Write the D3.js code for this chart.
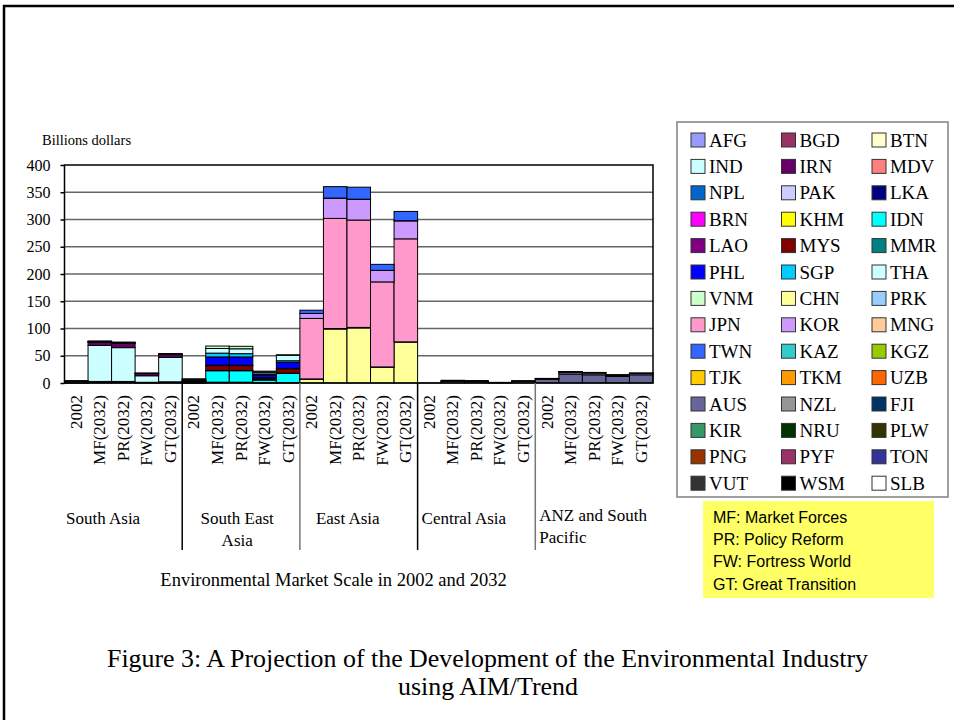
<!DOCTYPE html>
<html><head><meta charset="utf-8">
<script src="https://cdn.jsdelivr.net/npm/d3@7"></script>
<style>body{margin:0;background:#fff}svg{display:block}</style>
</head><body>
<svg id="c" width="954" height="720"></svg>
<script>
// ---------------- DATA ----------------
const scenarios = ["2002","MF(2032)","PR(2032)","FW(2032)","GT(2032)"];
const regions = ["South Asia","South East Asia","East Asia","Central Asia","ANZ and South Pacific"];
const yTicks = [0,50,100,150,200,250,300,350,400];
const countries = ["AFG","BGD","BTN","IND","IRN","MDV","NPL","PAK","LKA",
  "BRN","KHM","IDN","LAO","MYS","MMR","PHL","SGP","THA","VNM",
  "CHN","PRK","JPN","KOR","MNG","TWN",
  "KAZ","KGZ","TJK","TKM","UZB",
  "AUS","NZL","FJI","KIR","NRU","PLW","PNG","PYF","TON","VUT","WSM","SLB"];
const countryColors = ["#9999FF","#993366","#FFFFCC","#CCFFFF","#660066","#FF8080","#0066CC","#CCCCFF","#000080",
  "#FF00FF","#FFFF00","#00FFFF","#800080","#800000","#008080","#0000FF","#00CCFF","#CCFFFF","#CCFFCC",
  "#FFFF99","#99CCFF","#FF99CC","#CC99FF","#FFCC99","#3366FF",
  "#33CCCC","#99CC00","#FFCC00","#FF9900","#FF6600",
  "#666699","#969696","#003366","#339966","#003300","#333300","#993300","#993366","#333399","#333333","#000000","#FFFFFF"];
const countryRegion = [0,0,0,0,0,0,0,0,0, 1,1,1,1,1,1,1,1,1,1, 2,2,2,2,2,2, 3,3,3,3,3, 4,4,4,4,4,4,4,4,4,4,4,4];
// values (billion dollars) per country for: 2002, MF, PR, FW, GT
const AFG = [0.1, 0.8, 0.8, 0.3, 0.6];
const BGD = [0.3, 2, 2, 1, 1.5];
const BTN = [0, 0.1, 0.1, 0, 0.1];
const IND = [2.5, 66, 62, 12, 45];
const IRN = [0.5, 6, 8, 4, 5];
const MDV = [0, 0.1, 0.1, 0, 0.1];
const NPL = [0.1, 0.5, 0.5, 0.2, 0.4];
const PAK = [0.3, 1, 1, 0.5, 0.8];
const LKA = [0.1, 0.5, 0.5, 0.2, 0.4];
const BRN = [0.1, 1, 1, 0.3, 0.5];
const KHM = [0.1, 0.5, 0.5, 0.2, 0.3];
const IDN = [2, 21, 21, 5, 17];
const LAO = [0.1, 0.5, 0.5, 0.2, 0.3];
const MYS = [1.5, 9, 9, 2, 8];
const MMR = [0.3, 0.8, 0.8, 2, 0.7];
const PHL = [1, 15, 15, 5, 11];
const SGP = [0.5, 7, 6, 2, 3];
const THA = [1.5, 8.5, 9, 3, 10];
const VNM = [0.5, 4.5, 4.5, 2, 1];
const CHN = [7, 99, 101, 29, 75];
const PRK = [0.5, 1, 1, 0.5, 0.5];
const JPN = [111, 202, 197, 156, 189];
const KOR = [9, 37, 38, 21, 33];
const MNG = [0.1, 0.3, 0.3, 0.2, 0.3];
const TWN = [6, 21, 22, 11, 17];
const KAZ = [0.2, 3, 2.5, 0.5, 3];
const KGZ = [0, 0.2, 0.2, 0.1, 0.1];
const TJK = [0, 0.2, 0.2, 0.1, 0.1];
const TKM = [0, 0.6, 0.6, 0.2, 0.4];
const UZB = [0, 1, 1, 0.3, 0.6];
const AUS = [7, 16.5, 15, 12, 15];
const NZL = [1, 3.5, 3.5, 2.5, 2.5];
const FJI = [0.1, 0.2, 0.2, 0.1, 0.2];
const KIR = [0, 0, 0, 0, 0];
const NRU = [0, 0, 0, 0, 0];
const PLW = [0, 0, 0, 0, 0];
const PNG = [0.2, 0.4, 0.4, 0.2, 0.3];
const PYF = [0.1, 0.3, 0.3, 0.1, 0.2];
const TON = [0, 0, 0, 0, 0];
const VUT = [0, 0, 0, 0, 0];
const WSM = [0, 0, 0, 0, 0];
const SLB = [0, 0, 0, 0, 0];
const countryValues = [AFG,BGD,BTN,IND,IRN,MDV,NPL,PAK,LKA,BRN,KHM,IDN,LAO,MYS,MMR,PHL,SGP,THA,VNM,
  CHN,PRK,JPN,KOR,MNG,TWN,KAZ,KGZ,TJK,TKM,UZB,AUS,NZL,FJI,KIR,NRU,PLW,PNG,PYF,TON,VUT,WSM,SLB];
const scenarioNotes = ["MF: Market Forces","PR: Policy Reform","FW: Fortress World","GT: Great Transition"];

// ---------------- CHART ----------------
const svg = d3.select("#c");
const serif = "'Liberation Serif','Times New Roman',serif";
const sans = "'Liberation Sans',Arial,sans-serif";

// outer frame
svg.append("path").attr("d","M4,721 V6 H955").attr("fill","none").attr("stroke","#000").attr("stroke-width",2.5);

// build table
const rows = [];
regions.forEach((r,ri)=>scenarios.forEach((s,si)=>{
  const row = {id: ri*5+si, region: ri, label: s};
  countries.forEach((c,ci)=>{ row[c] = countryRegion[ci]===ri ? countryValues[ci][si] : 0; });
  rows.push(row);
}));

const x = d3.scaleBand().domain(rows.map(d=>d.id)).range([64.5,653]).padding(0);
const y = d3.scaleLinear().domain([0,400]).range([383,165]);

// gridlines
svg.append("g").selectAll("line").data(yTicks.filter(t=>t>0 && t<400)).join("line")
  .attr("x1",64.5).attr("x2",653).attr("y1",d=>y(d)).attr("y2",d=>y(d))
  .attr("stroke","#666").attr("stroke-width",1.5);

// stacked bars
const stack = d3.stack().keys(countries)(rows);
const gb = svg.append("g");
stack.forEach((layer,li)=>{
  gb.selectAll(null).data(layer.filter(d=>d[1]-d[0]>0)).join("rect")
    .attr("x",d=>x(d.data.id)).attr("width",x.bandwidth())
    .attr("y",d=>y(d[1])).attr("height",d=>y(d[0])-y(d[1]))
    .attr("fill",countryColors[li]).attr("stroke","#000").attr("stroke-width",1);
});

// plot frame
svg.append("rect").attr("x",64.5).attr("y",165).attr("width",653-64.5).attr("height",218)
  .attr("fill","none").attr("stroke","#000").attr("stroke-width",1.5);

// y axis
const yAxis = d3.axisLeft(y).tickValues(yTicks).tickSize(4).tickPadding(10);
const ga = svg.append("g").attr("transform","translate(64.5,0)").call(yAxis);
ga.select(".domain").remove();
ga.selectAll("line").attr("stroke","#000").attr("stroke-width",1.5);
ga.selectAll("text").attr("font-family",serif).attr("font-size",16).attr("fill","#000");

svg.append("text").attr("x",42).attr("y",145).attr("font-family",serif).attr("font-size",14.5).text("Billions dollars");

// x labels
svg.append("g").selectAll("text").data(rows).join("text")
  .attr("transform",d=>`translate(${x(d.id)+x.bandwidth()/2},395) rotate(-90)`)
  .attr("text-anchor","end").attr("dominant-baseline","central")
  .attr("font-family",serif).attr("font-size",17).text(d=>d.label);

// separators
const sepColors = ["#000","#777","#000","#777"];
svg.append("g").selectAll("line").data([1,2,3,4]).join("line")
  .attr("x1",k=>x(k*5)).attr("x2",k=>x(k*5)).attr("y1",383).attr("y2",550)
  .attr("stroke",(k,i)=>sepColors[i]).attr("stroke-width",1.5);

// region labels
const regionLines = [["South Asia"],["South East","Asia"],["East Asia"],["Central Asia"],["ANZ and South","Pacific"]];
const regionAnchor = ["start","middle","start","start","start"];
const regionDx = [1.5, 55, 16, 4, 4];
const regionY = [[524],[524,546],[524],[524],[521,543]];
regionLines.forEach((lines,ri)=>{
  lines.forEach((t,li)=>{
    svg.append("text").attr("x",x(ri*5)+regionDx[ri]).attr("y",regionY[ri][li])
      .attr("text-anchor",regionAnchor[ri]).attr("font-family",serif).attr("font-size",17).text(t);
  });
});

svg.append("text").attr("x",333.5).attr("y",586).attr("text-anchor","middle")
  .attr("font-family",serif).attr("font-size",18.5)
  .text("Environmental Market Scale in 2002 and 2032");

// legend
svg.append("rect").attr("x",677).attr("y",122).attr("width",271).attr("height",375)
  .attr("fill","#fff").attr("stroke","#808080").attr("stroke-width",1.5);
const lg = svg.append("g").selectAll("g").data(countries).join("g")
  .attr("transform",(d,i)=>`translate(${691+(i%3)*90.5},${140+Math.floor(i/3)*26.4})`);
lg.append("rect").attr("x",0).attr("y",-7).attr("width",14).attr("height",14)
  .attr("fill",(d,i)=>countryColors[i]).attr("stroke","#333").attr("stroke-width",1);
lg.append("text").attr("x",18).attr("y",0).attr("dy","0.35em")
  .attr("font-family",serif).attr("font-size",19).text(d=>d);

// scenario notes box
svg.append("rect").attr("x",703).attr("y",501).attr("width",231).attr("height",97).attr("fill","#FFFF66");
svg.append("g").selectAll("text").data(scenarioNotes).join("text")
  .attr("x",713).attr("y",(d,i)=>517+i*22.4).attr("dy","0.35em")
  .attr("font-family",sans).attr("font-size",16).text(d=>d);

// caption
svg.append("text").attr("x",487.5).attr("y",667).attr("text-anchor","middle")
  .attr("font-family",serif).attr("font-size",25.5).attr("textLength",761).attr("lengthAdjust","spacingAndGlyphs")
  .text("Figure 3: A Projection of the Development of the Environmental Industry");
svg.append("text").attr("x",488).attr("y",695).attr("text-anchor","middle")
  .attr("font-family",serif).attr("font-size",25.5).attr("textLength",180).attr("lengthAdjust","spacingAndGlyphs")
  .text("using AIM/Trend");
</script>
</body></html>
